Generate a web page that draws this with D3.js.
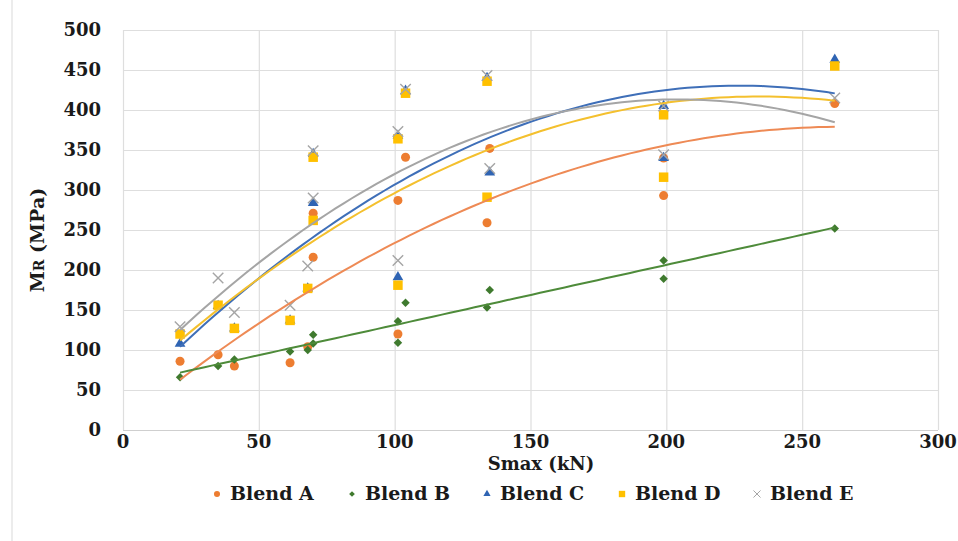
<!DOCTYPE html>
<html>
<head>
<meta charset="utf-8">
<script src="https://cdn.jsdelivr.net/npm/d3@7"></script>
<style>
body { margin: 0; background: #fff; }
text { font-family: "DejaVu Serif", serif; font-weight: bold; fill: #1a1a1a; }
</style>
</head>
<body>
<svg id="chart" width="958" height="541"></svg>
<script>
// values, [Smax (kN), Mr (MPa)]
var blendA = [[21,86],[35,94],[41,80],[61.5,84],[68,104],[70,216],[70,271],[101.2,120],[101.2,287],[104,341],[134,259],[135,352],[199,293],[199,340],[262,408]];
var blendB = [[21,66],[35,80],[41,88],[61.5,98],[68,100],[70,108],[70,119],[101.2,109],[101.2,136],[104,159],[134,153],[135,175],[199,189],[199,212],[262,252]];
var blendC = [[21,108],[35,155],[41,127],[61.5,137],[68,177],[70,284],[70,345],[101.2,191],[101.2,368],[104,424],[135,322],[134,440],[199,340],[199,405],[262,463]];
var blendD = [[21,120],[35,156],[41,127],[61.5,137],[68,177],[70,262],[70,341],[101.2,181],[101.2,364],[104,421],[134,291],[134,436],[199,316],[199,394],[262,455]];
var blendE = [[21,129],[35,190],[41,147],[61.5,156],[68,205],[70,290],[70,349],[101.2,212],[101.2,373],[104,426],[135,327],[134,443],[199,344],[199,405],[262,415]];

var seriesNames = ['Blend A', 'Blend B', 'Blend C', 'Blend D', 'Blend E'];
var xTicks = [0, 50, 100, 150, 200, 250, 300];
var yTicks = [0, 50, 100, 150, 200, 250, 300, 350, 400, 450, 500];

var svg = d3.select('#chart');
var plotLeft = 123, plotRight = 938, plotTop = 30, plotBottom = 430;

var x = d3.scaleLinear().domain([0, 300]).range([plotLeft, plotRight]);
var y = d3.scaleLinear().domain([0, 500]).range([plotBottom, plotTop]);

// custom marks: x for blend E, square diamond for blend B
var symbolX = {
	draw: function (ctx, size) {
		var r = Math.sqrt(size) / 2;
		ctx.moveTo(-r, -r); ctx.lineTo(r, r);
		ctx.moveTo(r, -r); ctx.lineTo(-r, r);
	}
};
var symbolRhomb = {
	draw: function (ctx, size) {
		var r = Math.sqrt(size / 2);
		ctx.moveTo(0, -r); ctx.lineTo(r, 0); ctx.lineTo(0, r); ctx.lineTo(-r, 0); ctx.closePath();
	}
};

var series = [
	{name: seriesNames[0], data: blendA, color: '#ED7D31', line: '#EE8A55', sym: d3.symbolCircle, size: 64, order: 2},
	{name: seriesNames[1], data: blendB, color: '#3F7A2E', line: '#4E8B3A', sym: symbolRhomb, size: 36, order: 1},
	{name: seriesNames[2], data: blendC, color: '#2F64B3', line: '#3F6FB8', sym: d3.symbolTriangle, size: 50, order: 2},
	{name: seriesNames[3], data: blendD, color: '#FFC000', line: '#F4C02E', sym: d3.symbolSquare, size: 90, order: 2},
	{name: seriesNames[4], data: blendE, color: '#A5A5A5', line: '#A5A5A5', sym: symbolX, size: 110, order: 2, stroke: true}
];

// outer frame line on the left
svg.append('line').attr('x1', 12).attr('x2', 12).attr('y1', 0).attr('y2', 541)
	.attr('stroke', '#d9d9d9').attr('stroke-width', 1);

// grid
var grid = svg.append('g').attr('class', 'grid');
grid.selectAll('line.h').data(yTicks).enter().append('line')
	.attr('x1', plotLeft).attr('x2', plotRight)
	.attr('y1', function (d) { return y(d) + 0.5; }).attr('y2', function (d) { return y(d) + 0.5; })
	.attr('stroke', function (d) { return d === 0 ? '#cfcfcf' : '#dedede'; }).attr('stroke-width', 1.2);
grid.selectAll('line.v').data(xTicks).enter().append('line')
	.attr('y1', plotTop).attr('y2', plotBottom)
	.attr('x1', function (d) { return x(d) + 0.5; }).attr('x2', function (d) { return x(d) + 0.5; })
	.attr('stroke', '#dedede').attr('stroke-width', 1.2);

// tick labels
svg.append('g').selectAll('text').data(yTicks).enter().append('text')
	.attr('x', 101).attr('y', function (d) { return y(d); }).attr('dy', '0.36em')
	.attr('text-anchor', 'end').style('font-size', '18px')
	.text(function (d) { return d; });
svg.append('g').selectAll('text').data(xTicks).enter().append('text')
	.attr('x', function (d) { return x(d); }).attr('y', 448)
	.attr('text-anchor', 'middle').style('font-size', '18px')
	.text(function (d) { return d; });

// axis titles
svg.append('text').attr('x', 541).attr('y', 470).attr('text-anchor', 'middle')
	.style('font-size', '18px').text('Smax (kN)');
var yt = svg.append('text').attr('transform', 'translate(44,240) rotate(-90)')
	.attr('text-anchor', 'middle').style('font-size', '19px');
yt.append('tspan').text('M');
yt.append('tspan').style('font-size', '14px').text('R');
yt.append('tspan').text(' (MPa)');

// least squares polynomial fit (Excel style trendline)
var polyFit = function (pts, order) {
	var n = order + 1, A = [], b = [];
	for (var i = 0; i < n; i++) {
		A.push([]);
		b.push(d3.sum(pts, function (p) { return Math.pow(p[0], i) * p[1]; }));
		for (var j = 0; j < n; j++) {
			A[i].push(d3.sum(pts, function (p) { return Math.pow(p[0], i + j); }));
		}
	}
	// gaussian elimination
	for (var c = 0; c < n; c++) {
		for (var r = c + 1; r < n; r++) {
			var f = A[r][c] / A[c][c];
			for (var k = c; k < n; k++) A[r][k] -= f * A[c][k];
			b[r] -= f * b[c];
		}
	}
	var coef = new Array(n);
	for (var r2 = n - 1; r2 >= 0; r2--) {
		var s = b[r2];
		for (var k2 = r2 + 1; k2 < n; k2++) s -= A[r2][k2] * coef[k2];
		coef[r2] = s / A[r2][r2];
	}
	return function (xv) {
		return d3.sum(coef, function (cf, i) { return cf * Math.pow(xv, i); });
	};
};

var line = d3.line().x(function (d) { return x(d[0]); }).y(function (d) { return y(d[1]); });

// markers
var marks = svg.append('g');
series.forEach(function (s) {
	marks.append('g').selectAll('path').data(s.data).enter().append('path')
		.attr('transform', function (d) { return 'translate(' + x(d[0]) + ',' + y(d[1]) + ')'; })
		.attr('d', d3.symbol().type(s.sym).size(s.size))
		.attr('fill', s.stroke ? 'none' : s.color)
		.attr('stroke', s.stroke ? s.color : 'none')
		.attr('stroke-width', 1.4);
});

// trendlines on top of markers
var trends = svg.append('g');
series.forEach(function (s) {
	var fit = polyFit(s.data, s.order);
	var lo = d3.min(s.data, function (d) { return d[0]; });
	var hi = d3.max(s.data, function (d) { return d[0]; });
	var samples = d3.range(lo, hi + 0.01, (hi - lo) / 80).map(function (v) { return [v, fit(v)]; });
	trends.append('path').datum(samples)
		.attr('d', line).attr('fill', 'none')
		.attr('stroke', s.line).attr('stroke-width', 2);
});

// legend
var legend = svg.append('g');
series.forEach(function (s, i) {
	var lx = 217 + i * 135;
	legend.append('path')
		.attr('transform', 'translate(' + lx + ',494)')
		.attr('d', d3.symbol().type(s.sym).size(s.size * 0.45))
		.attr('fill', s.stroke ? 'none' : s.color)
		.attr('stroke', s.stroke ? s.color : 'none')
		.attr('stroke-width', 1);
	legend.append('text').attr('x', lx + 13).attr('y', 500)
		.style('font-size', '19px').text(s.name);
});
</script>
</body>
</html>
